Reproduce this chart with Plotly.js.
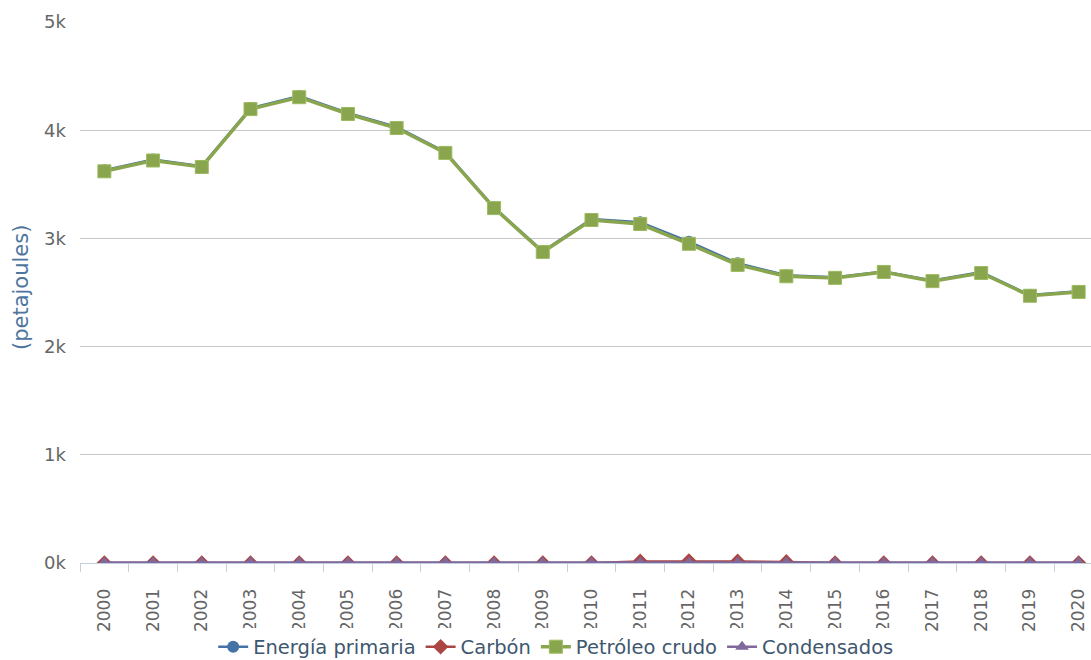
<!DOCTYPE html>
<html>
<head>
<meta charset="utf-8">
<script src="https://cdn.plot.ly/plotly-3.0.1.min.js"></script>
<style>
html,body{margin:0;padding:0;background:#fff;}
#chart{width:1091px;height:660px;}
</style>
</head>
<body>
<div id="chart"></div>
<script>
const years = ['2000','2001','2002','2003','2004','2005','2006','2007','2008','2009','2010','2011','2012','2013','2014','2015','2016','2017','2018','2019','2020'];
const energiaPrimaria = [3630,3730,3668,4205,4315,4160,4030,3798,3288,2882,3180,3150,2970,2770,2660,2640,2695,2612,2688,2476,2512];
const carbon = [0,0,0,0,0,0,0,0,0,0,0,15,18,15,10,0,0,0,0,0,0];
const petroleoCrudo = [3620,3720,3660,4195,4305,4150,4020,3790,3280,2875,3170,3133,2950,2755,2650,2635,2690,2605,2680,2470,2505];
const condensados = [5,5,5,5,5,5,5,5,5,5,5,5,5,5,5,5,5,5,5,5,5];
const yTickVals = [0,1000,2000,3000,4000,5000];
const yTickText = ['0k','1k','2k','3k','4k','5k'];
const seriesNames = ['Energía primaria','Carbón','Petróleo crudo','Condensados'];

const fontFam = '"Lucida Grande","DejaVu Sans",Verdana,sans-serif';

const traces = [
  {x: years, y: energiaPrimaria, name: seriesNames[0], type:'scatter', mode:'lines+markers',
   line:{color:'#4572A7', width:2.5}, marker:{symbol:'circle', size:12, color:'#4572A7'}},
  {x: years, y: carbon, name: seriesNames[1], type:'scatter', mode:'lines+markers',
   line:{color:'#AA4643', width:2.5}, marker:{symbol:'diamond', size:12, color:'#AA4643'}},
  {x: years, y: petroleoCrudo, name: seriesNames[2], type:'scatter', mode:'lines+markers',
   line:{color:'#89A54E', width:3.5}, marker:{symbol:'square', size:13, color:'#89A54E', line:{color:'#9cbb5e', width:1}}},
  {x: years, y: condensados, name: seriesNames[3], type:'scatter', mode:'lines+markers',
   line:{color:'#80699B', width:2.5}, marker:{symbol:'triangle-up', size:12, color:'#80699B'}}
];

const layout = {
  width:1091, height:660,
  margin:{l:80, r:0, t:22, b:97, pad:0, autoexpand:false},
  paper_bgcolor:'#ffffff', plot_bgcolor:'#ffffff',
  font:{family:fontFam, color:'#666666', size:17},
  showlegend:true,
  legend:{orientation:'h', x:0.471, xanchor:'center', y:-0.1553, yanchor:'middle',
          font:{family:fontFam, size:19.5, color:'#3E576F'}, itemwidth:30, tracegroupgap:0},
  xaxis:{type:'category', range:[-0.5, 20.254], showgrid:false, zeroline:false, automargin:false,
         showline:true, linecolor:'#C0D0E0', linewidth:1,
         ticks:'outside', tickson:'boundaries', ticklen:8, tickcolor:'#C0D0E0', tickwidth:1,
         ticklabelstandoff:18,
         tickangle:-90, tickfont:{family:fontFam, size:17, color:'#666666'}, fixedrange:true},
  yaxis:{range:[0,5000], tickvals:yTickVals, ticktext:yTickText, showgrid:true, gridcolor:'#C8C8C8', gridwidth:1,
         zeroline:false, showline:false, ticks:'', ticklabelstandoff:13, automargin:false,
         tickfont:{family:fontFam, size:18, color:'#666666'}, fixedrange:true},
  annotations:[{text:'(petajoules)', xref:'paper', yref:'paper', x:-0.0584, y:0.51, textangle:-90,
                showarrow:false, xanchor:'center', yanchor:'middle',
                font:{family:fontFam, size:21, color:'#4D759E'}}]
};

Plotly.newPlot('chart', traces, layout, {displayModeBar:false, staticPlot:true});
</script>
</body>
</html>
